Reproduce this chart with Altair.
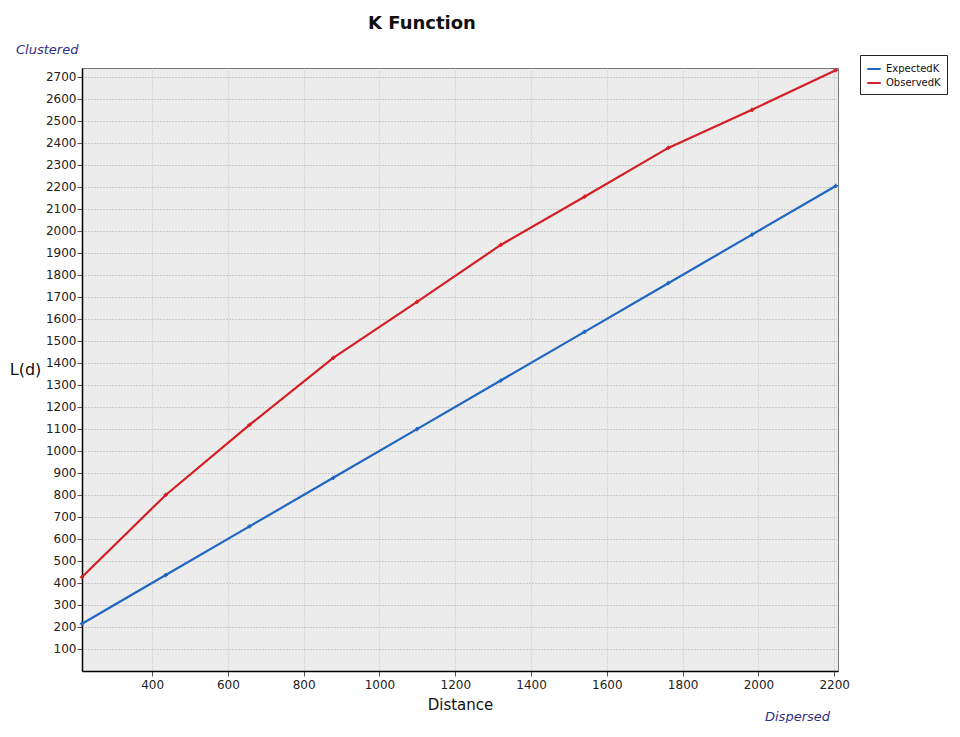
import altair as alt
import pandas as pd

# ---- data ----
distance = [215, 436, 657, 878, 1099, 1320, 1541, 1762, 1983, 2204]
expected_k = [215, 436, 657, 878, 1099, 1320, 1541, 1762, 1983, 2204]
observed_k = [427, 800, 1118, 1423, 1677, 1936, 2155, 2377, 2550, 2730]
series_names = ["ExpectedK", "ObservedK"]
series_colors = ["#1f66c1", "#d31f25"]
y_ticks = list(range(100, 2701, 100))
x_ticks = list(range(400, 2201, 200))

rows = []
for d, e, o in zip(distance, expected_k, observed_k):
    rows.append({"Distance": d, "L": e, "Series": series_names[0]})
    rows.append({"Distance": d, "L": o, "Series": series_names[1]})
df = pd.DataFrame(rows)

W, H = 756, 603
FONT = "DejaVu Sans"

lines = alt.Chart(df).mark_line(
    strokeWidth=2.2,
    point=alt.OverlayMarkDef(shape="cross", size=18, filled=True),
).encode(
    x=alt.X("Distance:Q",
            scale=alt.Scale(domain=[215, 2210], nice=False, zero=False),
            axis=alt.Axis(values=x_ticks, format="d", title="Distance", titleFontSize=15,
                          titleFontWeight="normal", titleFont=FONT, titleColor="#111",
                          titleY=33, titleBaseline="middle",
                          labelFontSize=12, labelFont=FONT, labelColor="#222",
                          tickSize=5, tickColor="#555", labelPadding=3,
                          domainColor="#000", domainWidth=1.5,
                          gridColor="#c4c4c4", gridDash=[1, 2], gridWidth=1)),
    y=alt.Y("L:Q",
            scale=alt.Scale(domain=[0, 2740], nice=False),
            axis=alt.Axis(values=y_ticks, format="d", title="L(d)", titleAngle=0,
                          titleFontSize=16,
                          titleFontWeight="normal", titleFont=FONT, titleColor="#111",
                          titleX=-57, titleY=H / 2, titleAlign="center",
                          titleBaseline="middle",
                          labelFontSize=12, labelFont=FONT, labelColor="#222",
                          tickSize=5, tickColor="#555", labelPadding=1,
                          domainColor="#000", domainWidth=1.5,
                          gridColor="#a8a8a8", gridDash=[1, 2], gridWidth=1)),
    color=alt.Color("Series:N",
                    scale=alt.Scale(domain=series_names, range=series_colors),
                    legend=alt.Legend(title=None, orient="none", legendX=778, legendY=-13,
                                      strokeColor="#222", fillColor="white", padding=6,
                                      labelFontSize=10, labelFont=FONT, labelColor="#111",
                                      symbolType="stroke", symbolStrokeWidth=2,
                                      symbolSize=180, rowPadding=1, labelOffset=4)),
)

title_df = pd.DataFrame({"t": ["K Function"]})
title = alt.Chart(title_df).mark_text(
    font=FONT, fontSize=18, fontWeight="bold", color="#111", align="center",
    baseline="middle"
).encode(x=alt.value(340), y=alt.value(-44), text="t:N")

clustered = alt.Chart(pd.DataFrame({"t": ["Clustered"]})).mark_text(
    font=FONT, fontSize=13, fontStyle="italic", color="#2e2e86", align="left",
    baseline="middle"
).encode(x=alt.value(-66), y=alt.value(-18), text="t:N")

dispersed = alt.Chart(pd.DataFrame({"t": ["Dispersed"]})).mark_text(
    font=FONT, fontSize=13, fontStyle="italic", color="#2e2e86", align="left",
    baseline="middle"
).encode(x=alt.value(683), y=alt.value(649), text="t:N")

chart = alt.layer(lines, title, clustered, dispersed).properties(
    width=W, height=H,
    autosize=alt.AutoSizeParams(type="none"),
    padding={"left": 74, "top": 60, "right": 114, "bottom": 52},
    background="white",
).configure_view(
    fill="#ececec", stroke="#777", strokeWidth=1
)

chart.save("out.html", embed_options={"renderer": "svg", "actions": False})
